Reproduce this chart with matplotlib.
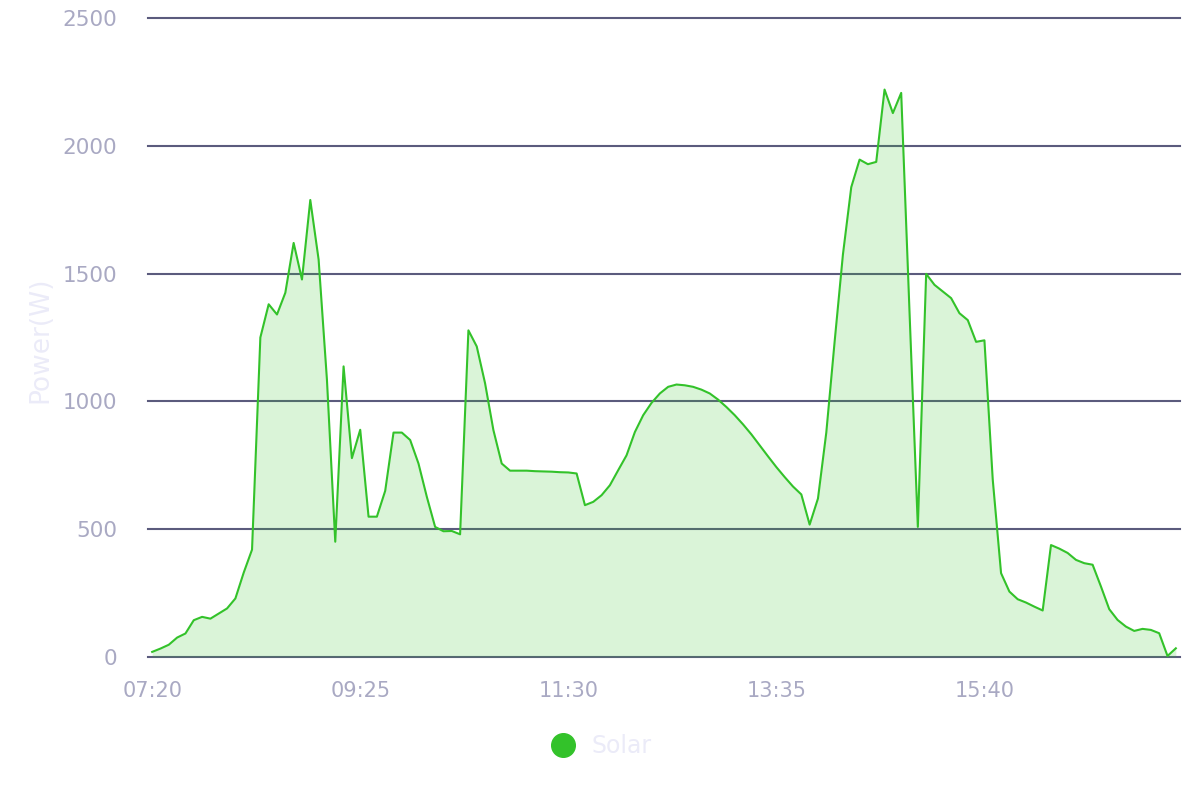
import numpy as np
import pandas as pd
import matplotlib
matplotlib.use('Agg')
import matplotlib.pyplot as plt
from matplotlib.lines import Line2D

# solar power readings, one every 5 minutes from 07:20
solar = [20, 33, 48, 76, 92, 144, 157, 150, 170, 190,
         229, 330, 420, 1250, 1380, 1340, 1425, 1620, 1477, 1788,
         1555, 1085, 451, 1137, 778, 889, 549, 549, 650, 878,
         878, 849, 757, 627, 509, 492, 493, 480, 1278, 1215,
         1071, 888, 757, 729, 729, 729, 727, 726, 725, 723,
         722, 718, 594, 607, 633, 672, 731, 789, 880, 946,
         994, 1031, 1057, 1066, 1063, 1057, 1046, 1031, 1007, 978,
         946, 910, 871, 828, 785, 743, 704, 667, 636, 518,
         620, 878, 1233, 1575, 1838, 1946, 1928, 1937, 2220, 2128,
         2207, 1350, 509, 1499, 1456, 1430, 1404, 1345, 1318, 1233,
         1239, 694, 328, 256, 226, 213, 197, 182, 438, 424,
         407, 380, 367, 361, 276, 187, 145, 119, 102, 110,
         106, 93, 4, 34]
times = list(pd.date_range('2024-01-01 07:20', periods=len(solar), freq='5min').strftime('%H:%M'))
tick_labels = ['07:20', '09:25', '11:30', '13:35', '15:40']
y_ticks = [0, 500, 1000, 1500, 2000, 2500]

green = '#33c22a'
grid_col = '#5b5b7d'
label_col = '#a9a9c3'
faint = '#ebebf8'

fig = plt.figure(figsize=(12, 8), dpi=100)
ax = fig.add_axes([148/1200, 1-657/800, (1180-148)/1200, (657-18)/800])

x = np.arange(len(solar))
ax.fill_between(x, solar, 0, color=green, alpha=0.18, linewidth=0, zorder=3)
ax.plot(x, solar, color=green, linewidth=1.5, zorder=4)

ax.set_xlim(-0.5, len(solar) - 0.5)
ax.set_ylim(0, 2500)
ax.set_yticks(y_ticks)
ax.set_xticks([times.index(t) for t in tick_labels])
ax.set_xticklabels(tick_labels)
for yv in y_ticks:
    ax.axhline(yv, color=grid_col, linewidth=1.5, zorder=1, clip_on=False)

for s in ax.spines.values():
    s.set_visible(False)
ax.tick_params(axis='both', length=0, labelcolor=label_col)
ax.tick_params(axis='y', pad=22, labelsize=15.5)
ax.tick_params(axis='x', pad=17, labelsize=15)

fig.text(40/1200, 1-340/800, 'Power(W)', rotation=90, ha='center', va='center',
         color=faint, fontsize=19)

handle = Line2D([], [], marker='o', linestyle='none', color=green, markersize=17)
fig.legend(handles=[handle], labels=['Solar'], loc='center', bbox_to_anchor=(0.496, 1-746/800),
           frameon=False, fontsize=17, labelcolor=faint, handletextpad=0.2)

fig.savefig('out.png', dpi=100)
